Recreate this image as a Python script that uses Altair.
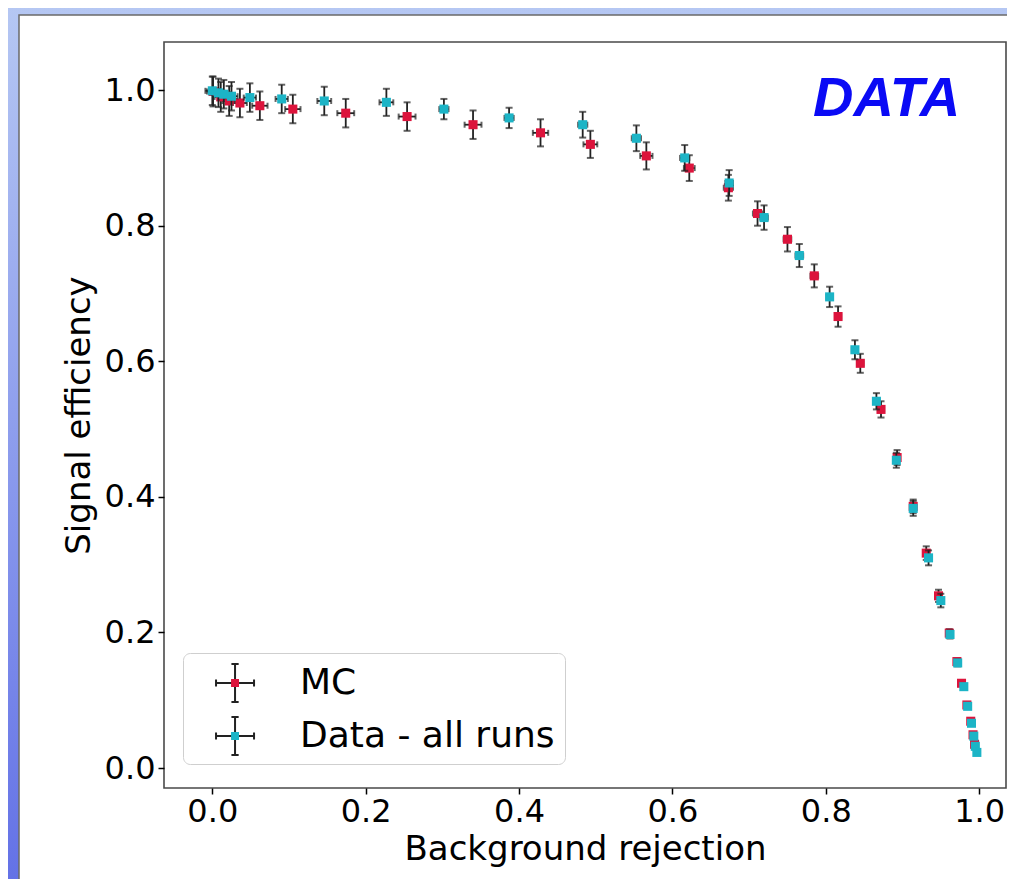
import altair as alt
import pandas as pd

# ---------------- data ----------------
series_names = ["MC", "Data - all runs"]
series_colors = ["#dc143c", "#1cb4c6"]
bar_keys = ["mc-bars", "data-bars"]

mc_x = [0.001, 0.011, 0.022, 0.036, 0.062, 0.105, 0.174, 0.254, 0.340, 0.428, 0.493,
        0.566, 0.622, 0.673, 0.711, 0.750, 0.785, 0.816, 0.845, 0.872, 0.893, 0.914,
        0.931, 0.947, 0.961, 0.971, 0.977, 0.984, 0.989, 0.992, 0.994]
mc_y = [0.998, 0.990, 0.984, 0.981, 0.977, 0.972, 0.966, 0.961, 0.949, 0.937, 0.920,
        0.903, 0.885, 0.856, 0.818, 0.780, 0.726, 0.666, 0.597, 0.529, 0.458, 0.386,
        0.317, 0.254, 0.199, 0.157, 0.125, 0.093, 0.069, 0.049, 0.035]
mc_xerr = [0.008, 0.008, 0.009, 0.009, 0.010, 0.010, 0.011, 0.011, 0.011, 0.010, 0.009,
           0.008, 0.007, 0.006, 0.006, 0.005, 0.005, 0.004, 0.004, 0.004, 0.003, 0.003,
           0.003, 0.002, 0.002, 0.002, 0.002, 0.002, 0.001, 0.001, 0.001]
mc_yerr = [0.022, 0.022, 0.022, 0.021, 0.021, 0.021, 0.021, 0.021, 0.021, 0.020, 0.020,
           0.020, 0.019, 0.019, 0.018, 0.018, 0.017, 0.015, 0.014, 0.012, 0.011, 0.010,
           0.010, 0.009, 0.006, 0.005, 0.004, 0.004, 0.003, 0.003, 0.003]

data_x = [0.000, 0.008, 0.015, 0.025, 0.049, 0.0905, 0.146, 0.227, 0.302, 0.387, 0.483,
          0.553, 0.616, 0.674, 0.7195, 0.7655, 0.805, 0.838, 0.866, 0.892, 0.914, 0.934,
          0.950, 0.962, 0.972, 0.980, 0.985, 0.990, 0.993, 0.995, 0.997]
data_y = [0.999, 0.996, 0.994, 0.991, 0.989, 0.987, 0.984, 0.982, 0.972, 0.959, 0.949,
          0.929, 0.900, 0.863, 0.812, 0.756, 0.695, 0.617, 0.541, 0.454, 0.383, 0.310,
          0.247, 0.197, 0.155, 0.120, 0.091, 0.066, 0.047, 0.032, 0.023]
data_xerr = [0.009, 0.008, 0.008, 0.008, 0.008, 0.008, 0.009, 0.009, 0.006, 0.006, 0.006,
             0.006, 0.006, 0.005, 0.005, 0.005, 0.004, 0.004, 0.004, 0.003, 0.003, 0.003,
             0.002, 0.002, 0.002, 0.002, 0.002, 0.001, 0.001, 0.001, 0.001]
data_yerr = [0.021, 0.021, 0.021, 0.021, 0.021, 0.021, 0.021, 0.020, 0.015, 0.015, 0.019,
             0.019, 0.019, 0.019, 0.018, 0.017, 0.015, 0.014, 0.012, 0.011, 0.011, 0.011,
             0.010, 0.006, 0.005, 0.004, 0.004, 0.003, 0.003, 0.003, 0.003]

x_ticks = [0.0, 0.2, 0.4, 0.6, 0.8, 1.0]
y_ticks = [0.0, 0.2, 0.4, 0.6, 0.8, 1.0]
x_title = "Background rejection"
y_title = "Signal efficiency"
annotation = "DATA"


def table(xs, ys, xe, ye, name, key):
    df = pd.DataFrame({"x": xs, "y": ys, "xe": xe, "ye": ye})
    df["xlo"] = df["x"] - df["xe"]
    df["xhi"] = df["x"] + df["xe"]
    df["ylo"] = df["y"] - df["ye"]
    df["yhi"] = df["y"] + df["ye"]
    df["series"] = name
    df["bars"] = key
    return df


mc = table(mc_x, mc_y, mc_xerr, mc_yerr, series_names[0], bar_keys[0])
dt = table(data_x, data_y, data_xerr, data_yerr, series_names[1], bar_keys[1])
one = pd.DataFrame({"k": [0]})

# ---------------- styling ----------------
W, H = 842, 746
EBAR = "#222222"
xscale = alt.Scale(domain=[-0.063, 1.035], nice=False, zero=False)
yscale = alt.Scale(domain=[-0.0295, 1.071], nice=False, zero=False)
xaxis = alt.Axis(values=x_ticks, format=".1f", title=x_title, titlePadding=5,
                 labelPadding=2, zindex=2)
yaxis = alt.Axis(values=y_ticks, format=".1f", title=y_title, titlePadding=8,
                 labelPadding=3, zindex=2)

cross_path = ("M-1,0"
              "M0.16,0H2.16M1.16,-1V1"
              "M0.97,-1H1.35M0.97,1H1.35"
              "M0.16,-0.18V0.18M2.16,-0.18V0.18")
dot_path = "M-1,0M2.16,0M0.95,-0.21H1.37V0.21H0.95Z"

common_legend = dict(
    title=None, orient="none", legendX=19, legendY=611, padding=10,
    symbolSize=1444, symbolStrokeWidth=2, labelFont="DejaVu Sans", labelFontSize=36,
    labelOffset=67, labelLimit=600, symbolOpacity=1,
)

# legend with the coloured markers and the labels (drawn on top)
color_enc = alt.Color(
    "series:N",
    scale=alt.Scale(domain=series_names, range=series_colors),
    legend=alt.Legend(
        symbolType=dot_path, symbolStrokeColor="transparent", labelColor="black",
        strokeColor="#cfcfcf", cornerRadius=7, zindex=3, rowPadding=15, **common_legend,
    ),
)
# legend with the error-bar crosses (drawn below)
bar_enc = alt.Opacity(
    "bars:N",
    scale=alt.Scale(domain=bar_keys, range=[1, 1]),
    legend=alt.Legend(
        symbolType=cross_path, symbolStrokeColor=EBAR, symbolFillColor="transparent",
        fillColor="white", labelExpr="''", zindex=1, rowPadding=7, **common_legend,
    ),
)


def series_layers(df):
    base = alt.Chart(df)
    X = alt.X("x:Q", scale=xscale, axis=xaxis)
    Y = alt.Y("y:Q", scale=yscale, axis=yaxis)
    vbar = base.mark_rule(color=EBAR, strokeWidth=1.8).encode(
        x=X, y=alt.Y("ylo:Q", scale=yscale, axis=yaxis), y2="yhi:Q", opacity=bar_enc)
    hbar = base.mark_rule(color=EBAR, strokeWidth=1.8).encode(
        y=Y, x=alt.X("xlo:Q", scale=xscale, axis=xaxis), x2="xhi:Q")
    cap_lo = base.mark_tick(orient="horizontal", size=7, thickness=2, color=EBAR).encode(
        x=X, y=alt.Y("ylo:Q", scale=yscale, axis=yaxis))
    cap_hi = base.mark_tick(orient="horizontal", size=7, thickness=2, color=EBAR).encode(
        x=X, y=alt.Y("yhi:Q", scale=yscale, axis=yaxis))
    capx_lo = base.mark_tick(orient="vertical", size=6, thickness=2, color=EBAR).encode(
        x=alt.X("xlo:Q", scale=xscale, axis=xaxis), y=Y)
    capx_hi = base.mark_tick(orient="vertical", size=6, thickness=2, color=EBAR).encode(
        x=alt.X("xhi:Q", scale=xscale, axis=xaxis), y=Y)
    pts = base.mark_square(size=82, opacity=1).encode(x=X, y=Y, color=color_enc)
    return [vbar, hbar, cap_lo, cap_hi, capx_lo, capx_hi, pts]


grad = alt.LinearGradient(
    gradient="linear",
    stops=[alt.GradientStop(color="#b6c8f3", offset=0),
           alt.GradientStop(color="#6270e6", offset=1)],
    x1=0, x2=0, y1=0, y2=1,
)
bg = alt.Chart(one).mark_rect(color=grad).encode(
    x=alt.value(-170), x2=alt.value(W + 30), y=alt.value(-45), y2=alt.value(H + 110))
panel = alt.Chart(one).mark_rect(fill="white", stroke="#6a6a6a", strokeWidth=1.5).encode(
    x=alt.value(-145), x2=alt.value(W + 40), y=alt.value(-27), y2=alt.value(H + 130))
frame = alt.Chart(one).mark_rect(filled=False, stroke="#4a4a4a", strokeWidth=1.6).encode(
    x=alt.value(0), x2=alt.value(W), y=alt.value(0), y2=alt.value(H))
label = alt.Chart(one).mark_text(
    text=annotation, font="Liberation Sans", fontSize=56, fontWeight="bold",
    fontStyle="italic", color="#0a0af5", align="left", baseline="alphabetic",
).encode(x=alt.value(649), y=alt.value(74))

chart = alt.layer(
    bg, panel, *series_layers(mc), *series_layers(dt), frame, label
).properties(
    width=W, height=H,
    padding={"left": 156, "top": 34, "right": 1, "bottom": 91},
    autosize=alt.AutoSizeParams(type="none"),
).configure_view(
    stroke="transparent"
).configure_axis(
    labelFont="DejaVu Sans", labelFontSize=32, labelColor="black",
    titleFont="DejaVu Sans", titleFontSize=34, titleFontWeight="normal", titleColor="black",
    tickColor="black", tickWidth=1.5, tickSize=6, domain=False, grid=False,
)

chart.save("out.html", embed_options={"renderer": "svg", "actions": False})
